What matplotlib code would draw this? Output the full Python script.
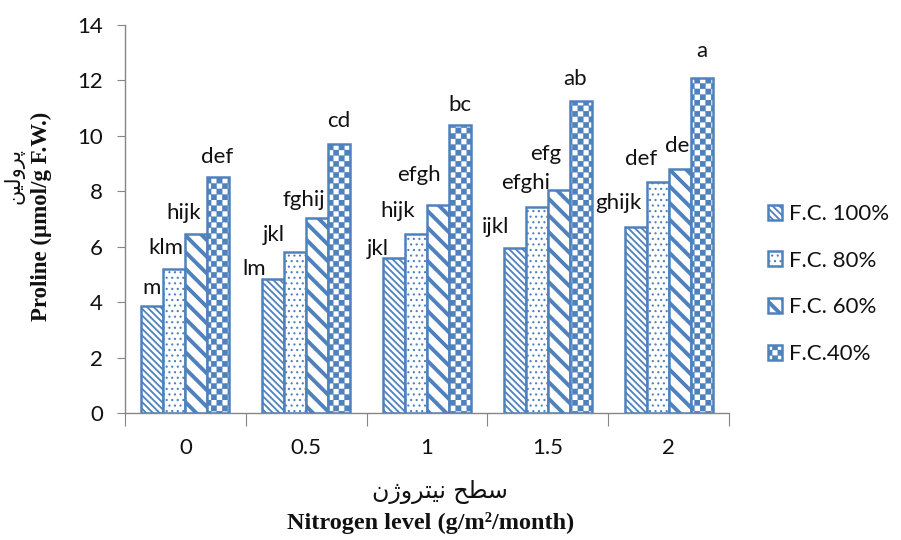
import warnings
import numpy as np
import matplotlib
matplotlib.use('Agg')
import matplotlib.pyplot as plt
from matplotlib import hatch as mhatch
from matplotlib.path import Path

warnings.filterwarnings('ignore', message='hatch must consist')

levels = ['0', '0.5', '1', '1.5', '2']
series = ['F.C. 100%', 'F.C. 80%', 'F.C. 60%', 'F.C.40%']
fc100 = [3.85, 4.85, 5.6, 5.95, 6.7]
fc80 = [5.2, 5.8, 6.45, 7.45, 8.35]
fc60 = [6.45, 7.05, 7.5, 8.05, 8.8]
fc40 = [8.5, 9.7, 10.4, 11.25, 12.1]
letters100 = ['m', 'lm', 'jkl', 'ijkl', 'ghijk']
letters80 = ['klm', 'jkl', 'hijk', 'efghi', 'def']
letters60 = ['hijk', 'fghij', 'efgh', 'efg', 'de']
letters40 = ['def', 'cd', 'bc', 'ab', 'a']

# nudges for the letter labels, in pixels (dx sideways, dy baseline above bar top)
dx100 = [-1, -19, -16, -19, -17]
dx80 = [-9, -21, -18, -11, -17]
dx60 = [-13, -13, -19, -13, -2]
dx40 = [-1, 0, 0, -6, 0]
dy100 = [12, 4, 3, 15, 18]
dy80 = [15, 11, 17, 18, 17]
dy60 = [15, 12, 24, 30, 17]
dy40 = [14, 17, 14, 16, 21]

BLUE = '#4f81bd'
GREY = '#868686'


class CheckerHatch(mhatch.HatchPatternBase):
    # 'c' in a hatch string -> filled squares in a checkerboard
    def __init__(self, hatch, density):
        n = hatch.count('c') * int(density)
        self.num_cells = n + n % 2
        self.num_vertices = 5 * (self.num_cells ** 2 // 2)

    def set_vertices_and_codes(self, vertices, codes):
        n = self.num_cells
        s = 1.0 / n
        k = 0
        for i in range(n):
            for j in range(n):
                if (i + j) % 2:
                    continue
                x0, y0 = i * s, j * s
                vertices[k:k + 5] = [(x0, y0), (x0 + s, y0), (x0 + s, y0 + s),
                                     (x0, y0 + s), (x0, y0)]
                codes[k:k + 5] = [Path.MOVETO, Path.LINETO, Path.LINETO,
                                  Path.LINETO, Path.CLOSEPOLY]
                k += 5


mhatch._hatch_types.append(CheckerHatch)

plt.rcParams['font.family'] = ['Lato', 'DejaVu Sans']
plt.rcParams['hatch.color'] = BLUE
plt.rcParams['text.color'] = '#111111'
plt.rcParams['ytick.labelcolor'] = '#111111'
plt.rcParams['xtick.labelcolor'] = '#111111'

fig = plt.figure(figsize=(9.01, 5.4), dpi=100)
ax = fig.add_axes([125 / 901, 1 - 413 / 540, 604 / 901, 388 / 540])

x = np.arange(len(levels))
w = 0.182
hatches = ['\\\\\\\\\\', '...', '\\\\', 'ccc']
hatch_lw = [1.3, 0.8, 2.8, 0.2]
values = [fc100, fc80, fc60, fc40]
letters = [letters100, letters80, letters60, letters40]
dxs = [dx100, dx80, dx60, dx40]
dys = [dy100, dy80, dy60, dy40]

for k in range(4):
    pos = x + (k - 1.5) * w
    bars = ax.bar(pos, values[k], width=w, color='white', edgecolor=BLUE,
                  linewidth=1.8, hatch=hatches[k], label=series[k], zorder=2)
    for p in bars:
        if hasattr(p, 'set_hatch_linewidth'):
            p.set_hatch_linewidth(hatch_lw[k])
    for i in range(len(levels)):
        ax.annotate(letters[k][i], (pos[i], values[k][i]),
                    xytext=(dxs[k][i], dys[k][i]), textcoords='offset pixels',
                    ha='center', va='baseline', fontsize=16, zorder=3)

for s in ['top', 'right']:
    ax.spines[s].set_visible(False)
for s in ['left', 'bottom']:
    ax.spines[s].set_color(GREY)
    ax.spines[s].set_linewidth(1.0)

ax.set_ylim(0, 14)
ax.set_yticks(range(0, 15, 2))
ax.tick_params(axis='y', length=6, color=GREY, pad=10, labelsize=16)

ax.set_xlim(-0.5, 4.5)
ax.set_xticks(np.arange(-0.5, 5, 1))
ax.set_xticks(x, minor=True)
ax.set_xticklabels(levels, minor=True)
ax.tick_params(axis='x', which='major', length=9, color=GREY, labelbottom=False)
ax.tick_params(axis='x', which='minor', length=0, pad=18, labelsize=16)

leg = ax.legend(loc='center left', bbox_to_anchor=(768 / 901, 1 - 284 / 540),
                bbox_transform=fig.transFigure, frameon=False, fontsize=16,
                handlelength=0.65, handleheight=0.65, labelspacing=1.2,
                handletextpad=0.3, borderpad=0, borderaxespad=0)
for p, lw in zip(leg.get_patches(), hatch_lw):
    if hasattr(p, 'set_hatch_linewidth'):
        p.set_hatch_linewidth(lw)

# Persian axis titles, written in pre-joined presentation forms (visual order)
fa_proline = '\uFEE6\uFBFF\uFEDF\uFEED\uFEAE\uFB58'
fa_nitrogen = '\uFEE5\uFB8A\uFEED\uFEAE\uFE98\uFBFF\uFEE7 \uFEA2\uFEC4\uFEB3'

fig.text(14 / 901, 1 - 176 / 540, fa_proline, rotation=90, ha='center',
         va='center', fontsize=15, family=['DejaVu Sans'])
fig.text(41 / 901, 1 - 216 / 540, 'Proline (\u00b5mol/g F.W.)', rotation=90,
         ha='center', va='center', fontsize=16.5, fontweight='bold',
         family=['Liberation Serif'])
fig.text(440 / 901, 1 - 492 / 540, fa_nitrogen, ha='center', va='center',
         fontsize=17, family=['DejaVu Sans'])
fig.text(431 / 901, 1 - 523 / 540, 'Nitrogen level (g/m\u00b2/month)',
         ha='center', va='center', fontsize=17.5, fontweight='bold',
         family=['Liberation Serif'])

fig.savefig('out.png', dpi=100)
